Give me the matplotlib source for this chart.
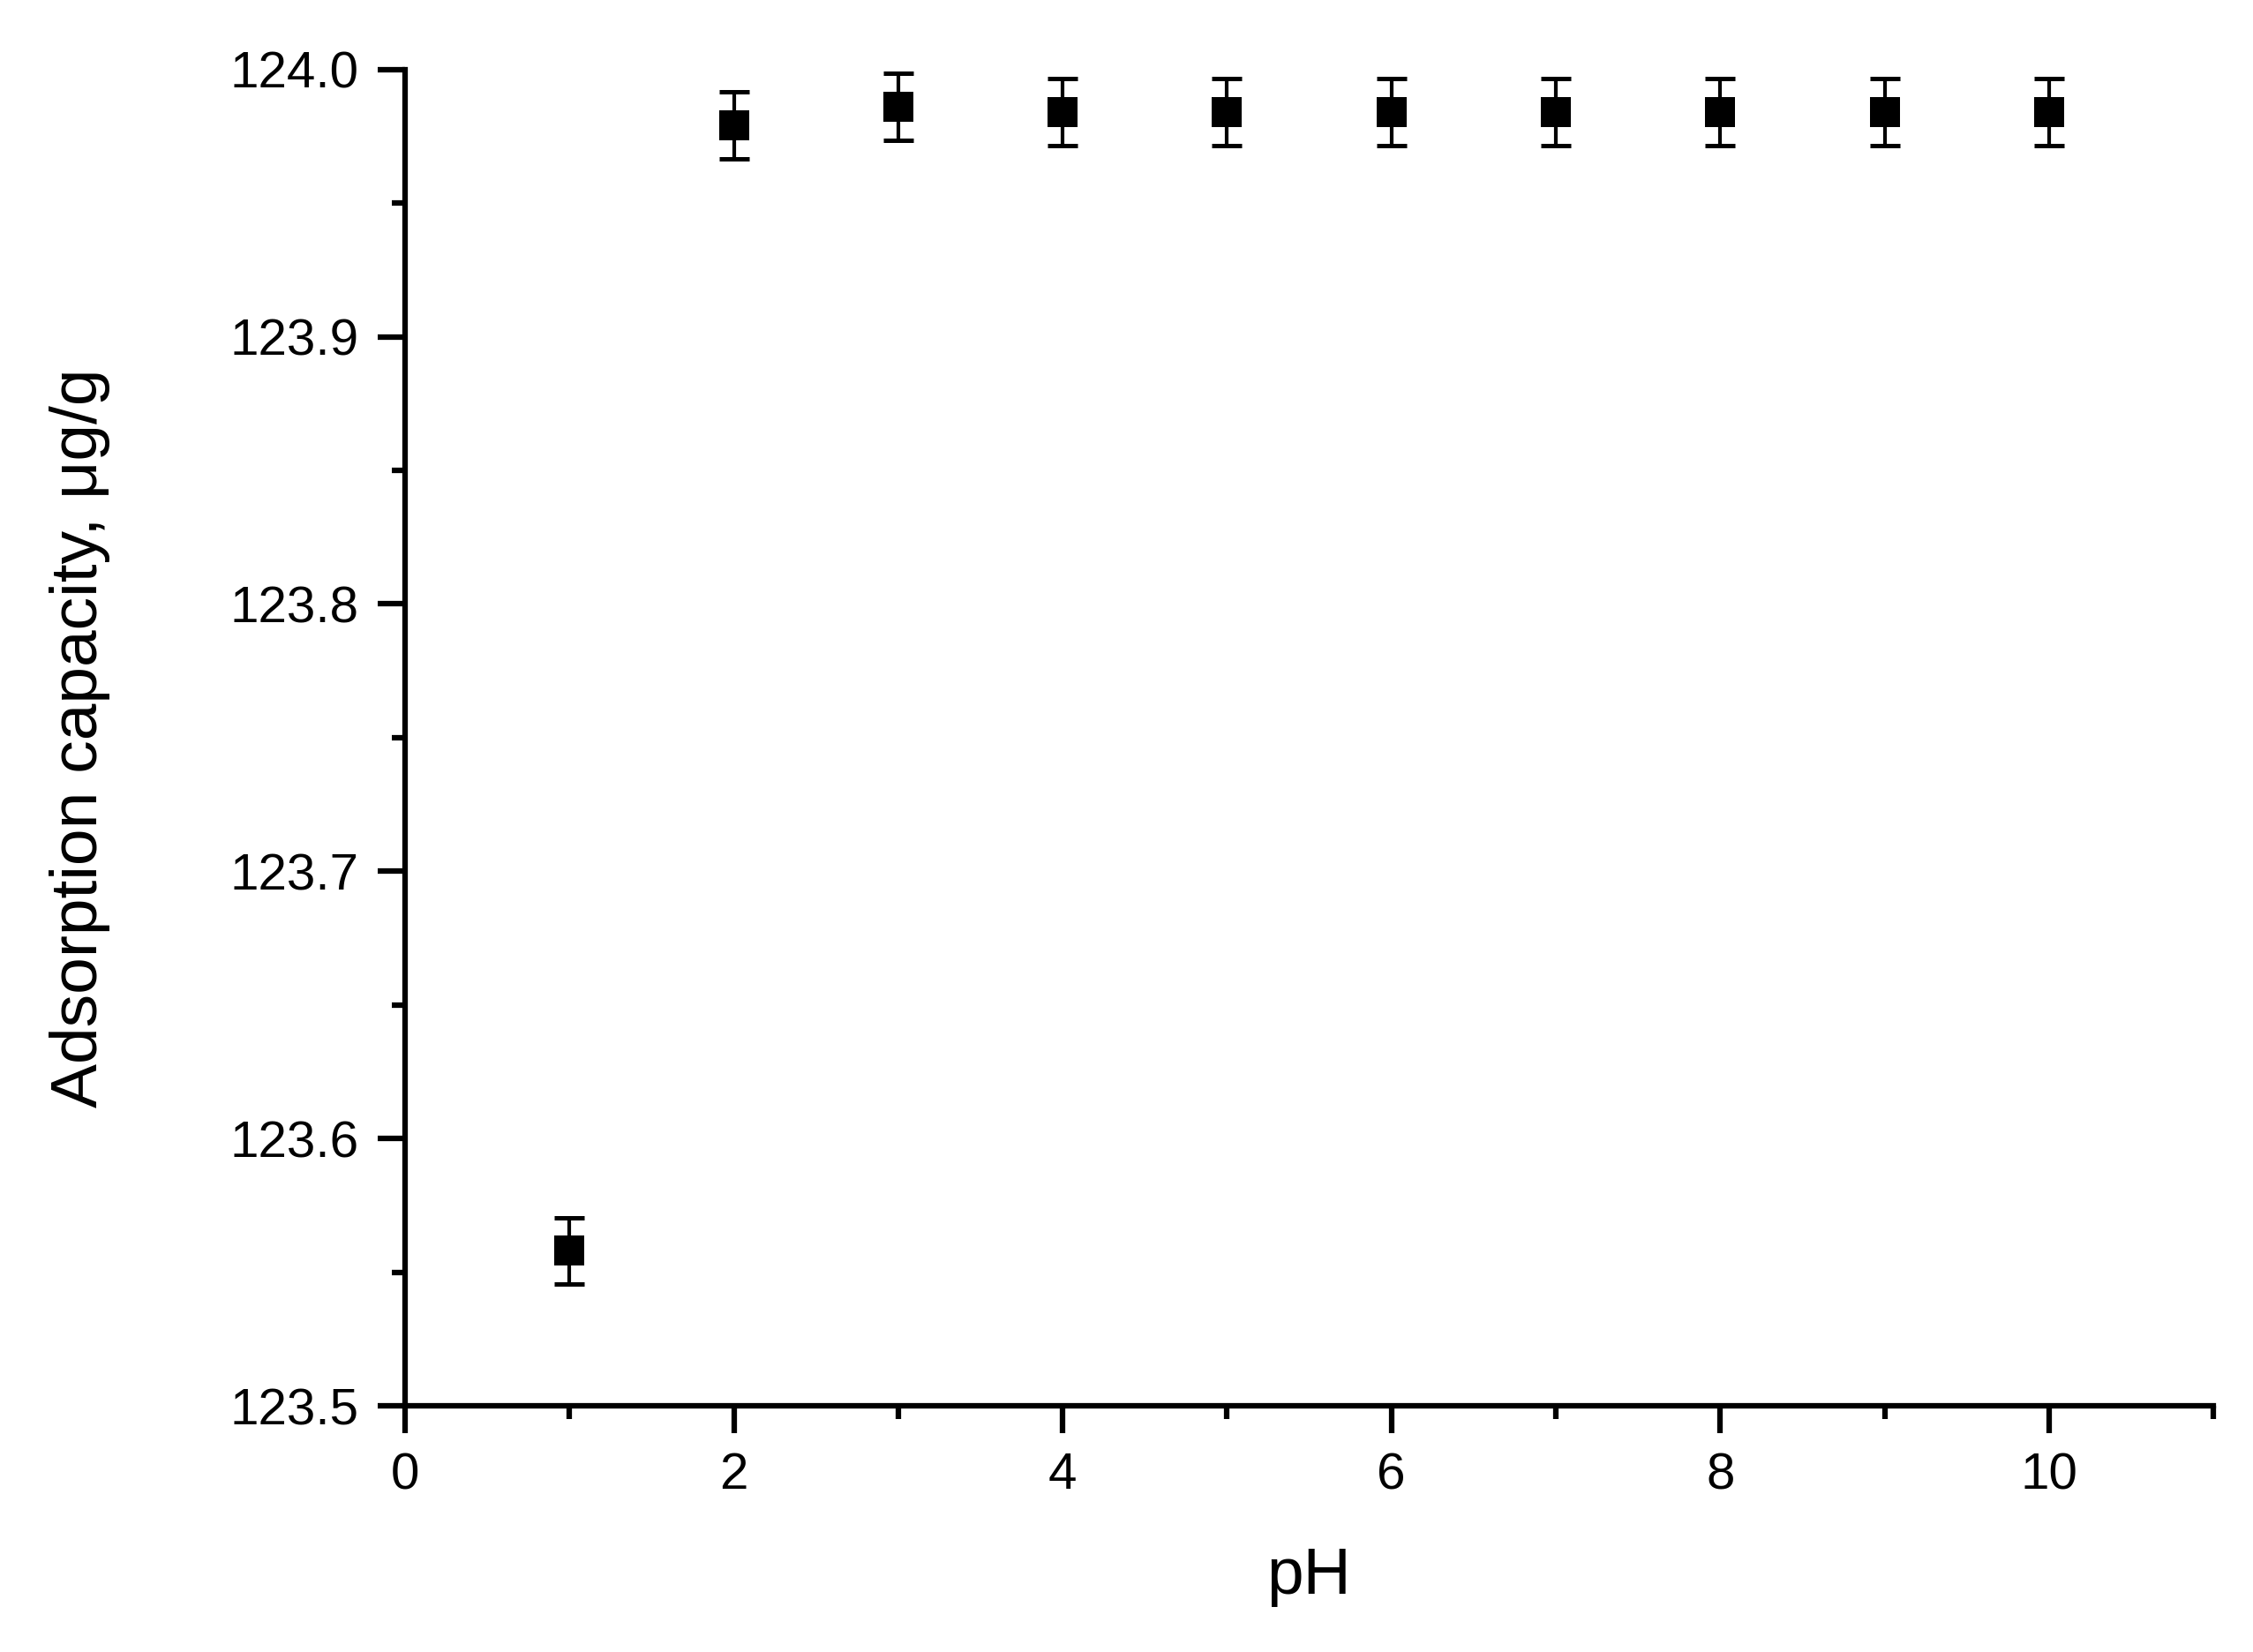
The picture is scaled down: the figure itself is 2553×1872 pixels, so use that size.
import matplotlib
matplotlib.use("Agg")
import matplotlib.pyplot as plt
from matplotlib.ticker import MultipleLocator

plt.rcParams["font.family"] = ["Liberation Sans", "DejaVu Sans"]

# Data
ph = [1, 2, 3, 4, 5, 6, 7, 8, 9, 10]
capacity = [123.558, 123.979, 123.986, 123.984, 123.984,
            123.984, 123.984, 123.984, 123.984, 123.984]
capacity_err = [0.0124, 0.0125, 0.0125, 0.0125, 0.0125,
                0.0125, 0.0125, 0.0125, 0.0125, 0.0125]

fig = plt.figure(figsize=(2553 / 300, 1872 / 300), dpi=300)
ax = fig.add_axes([0.1798, 0.149, 0.8026, 0.809])

line, caps, bars = ax.errorbar(ph, capacity, yerr=capacity_err, fmt="none",
                               ecolor="black", elinewidth=1.0, capsize=4,
                               capthick=1.2, clip_on=False)
ax.plot(ph, capacity, "s", color="black", markersize=8.2,
        markeredgewidth=0, clip_on=False, zorder=3)

ax.set_xlim(0, 11)
ax.set_ylim(123.5, 124.0)

ax.xaxis.set_major_locator(MultipleLocator(2))
ax.xaxis.set_minor_locator(MultipleLocator(1))
ax.yaxis.set_major_locator(MultipleLocator(0.1))
ax.yaxis.set_minor_locator(MultipleLocator(0.05))
ax.yaxis.set_major_formatter(plt.FormatStrFormatter("%.1f"))

for side in ["top", "right"]:
    ax.spines[side].set_visible(False)
for side in ["left", "bottom"]:
    ax.spines[side].set_linewidth(1.5)

ax.tick_params(which="major", direction="out", length=7.5, width=1.5,
               labelsize=14, pad=5)
ax.tick_params(which="minor", direction="out", length=3.6, width=1.5)

ax.set_xlabel("pH", fontsize=18)
ax.set_ylabel("Adsorption capacity, μg/g", fontsize=18)
ax.xaxis.set_label_coords(0.5, -0.105)
ax.yaxis.set_label_coords(-0.163, 0.5)

fig.savefig("out.png", dpi=300)
plt.close(fig)
